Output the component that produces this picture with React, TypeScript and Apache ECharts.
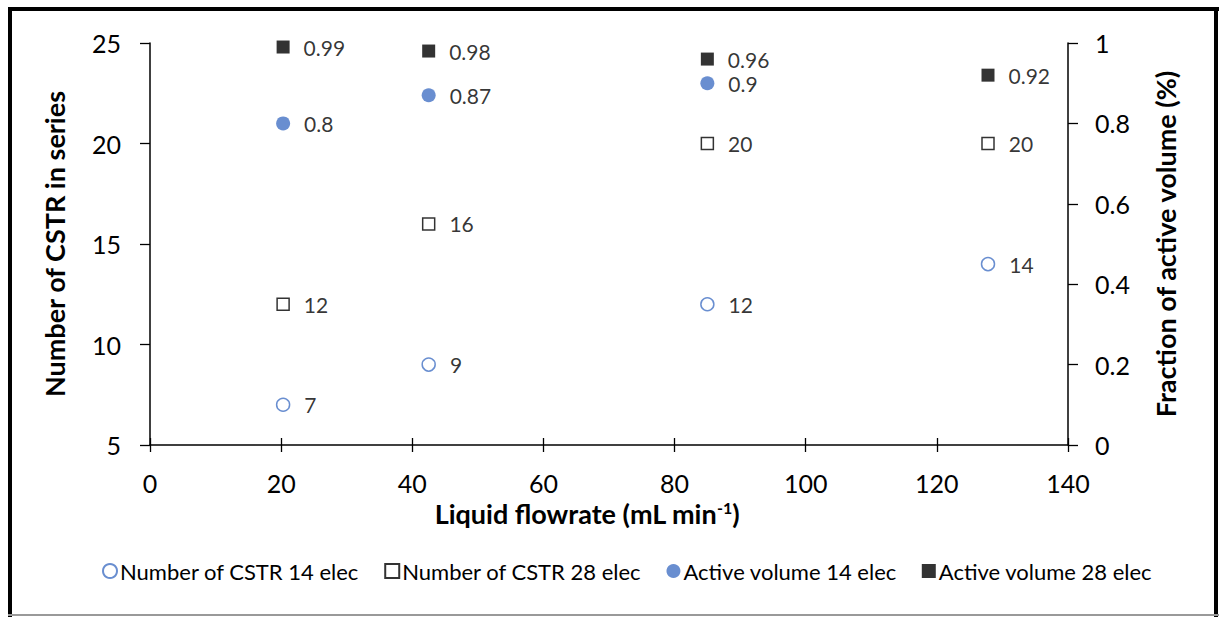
import React, { useEffect, useRef } from "react";
import * as echarts from "echarts";

const flow = [20.3, 42.5, 85, 127.8];
const cstr14 = [7, 9, 12, 14];
const cstr28 = [12, 16, 20, 20];
const active14 = [0.8, 0.87, 0.9];
const active28 = [0.99, 0.98, 0.96, 0.92];
const seriesNames = [
  "Number of CSTR 14 elec",
  "Number of CSTR 28 elec",
  "Active volume 14 elec",
  "Active volume 28 elec",
];

const FONT = "Lato";
const BLUE = "#4472C4";

export default function App() {
  const ref = useRef<HTMLDivElement>(null);
  useEffect(() => {
    document.body.style.margin = "0";
    const chart = echarts.init(ref.current!, undefined, { renderer: "svg" });
    const lbl = {
      show: true,
      position: "right" as const,
      distance: 14,
      color: "#000",
      fontSize: 21,
      lineHeight: 20,
      fontFamily: FONT,
    };
    const pts = (ys: number[]) => ys.map((y, i) => [flow[i], y]);
    const tickStyle = { color: "#000", width: 1.3 };
    const lineStyle = { color: "#000", width: 1.5 };
    chart.setOption({
      animation: false,
      textStyle: { fontFamily: FONT },
      grid: { left: 150, right: 151, top: 43, bottom: 172 },
      legend: {
        top: 555,
        left: 97,
        itemWidth: 14,
        itemHeight: 14,
        itemGap: 25,
        textStyle: { fontSize: 22, fontFamily: FONT, color: "#000", padding: [0, 0, 0, -2] },
        data: seriesNames,
      },
      xAxis: [
        {
          type: "value",
          min: 0,
          max: 140,
          interval: 20,
          position: "bottom",
          axisLine: { onZero: false, lineStyle },
          axisTick: { show: true, length: 7, lineStyle: tickStyle },
          minorTick: { show: false },
          splitLine: { show: false },
          axisLabel: { fontSize: 25, color: "#000", fontFamily: FONT, margin: 25 },
          name: "{a|Liquid flowrate (mL min}{s|-1}{a|)}",
          nameLocation: "middle",
          nameGap: 54,
          nameTextStyle: {
            padding: [0, 44, 0, 0],
            rich: {
              a: { fontSize: 27, fontWeight: "bold", color: "#000", fontFamily: FONT },
              s: { fontSize: 16, fontWeight: "bold", color: "#000", fontFamily: FONT, verticalAlign: "top", padding: [0, 0, 12, 0] },
            },
          },
        },
        {
          type: "value",
          min: 0,
          max: 140,
          interval: 20,
          position: "bottom",
          axisLine: { show: false, onZero: false },
          axisTick: { show: true, inside: true, length: 7, lineStyle: tickStyle },
          minorTick: { show: false },
          splitLine: { show: false },
          axisLabel: { show: false },
        },
      ],
      yAxis: [
        {
          type: "value",
          min: 5,
          max: 25,
          interval: 5,
          position: "left",
          axisLine: { show: true, onZero: false, lineStyle },
          axisTick: { show: true, length: 10, lineStyle: tickStyle },
          minorTick: { show: false },
          splitLine: { show: false },
          axisLabel: { fontSize: 25, color: "#000", fontFamily: FONT, margin: 29 },
          name: "Number of CSTR in series",
          nameLocation: "middle",
          nameGap: 82,
          nameTextStyle: { fontSize: 27, fontWeight: "bold", color: "#000", fontFamily: FONT },
        },
        {
          type: "value",
          min: 0,
          max: 1,
          interval: 0.2,
          position: "right",
          axisLine: { show: true, onZero: false, lineStyle },
          axisTick: { show: true, length: 10, lineStyle: tickStyle },
          minorTick: { show: false },
          splitLine: { show: false },
          axisLabel: { fontSize: 25, color: "#000", fontFamily: FONT, margin: 27 },
          name: "Fraction of active volume (%)",
          nameLocation: "middle",
          nameGap: 84,
          nameRotate: 90,
          nameTextStyle: { fontSize: 27, fontWeight: "bold", color: "#000", fontFamily: FONT },
        },
      ],
      series: [
        {
          name: seriesNames[0],
          type: "scatter",
          yAxisIndex: 0,
          symbol: "circle",
          symbolSize: 13,
          itemStyle: { color: "#fff", borderColor: BLUE, borderWidth: 1.5 },
          label: lbl,
          data: pts(cstr14),
        },
        {
          name: seriesNames[1],
          type: "scatter",
          yAxisIndex: 0,
          symbol: "rect",
          symbolSize: 12,
          itemStyle: { color: "#fff", borderColor: "#000", borderWidth: 1.5 },
          label: lbl,
          data: pts(cstr28),
        },
        {
          name: seriesNames[2],
          type: "scatter",
          yAxisIndex: 1,
          symbol: "circle",
          symbolSize: 14,
          itemStyle: { color: BLUE },
          label: lbl,
          data: pts(active14),
        },
        {
          name: seriesNames[3],
          type: "scatter",
          yAxisIndex: 1,
          symbol: "rect",
          symbolSize: 13,
          itemStyle: { color: "#000" },
          label: lbl,
          data: pts(active28),
        },
      ],
      graphic: [
        { type: "rect", left: 8, top: 7, shape: { width: 4, height: 610 }, style: { fill: "#000" } },
        { type: "rect", left: 8, top: 7, shape: { width: 1211, height: 4 }, style: { fill: "#000" } },
        { type: "rect", left: 1214, top: 7, shape: { width: 4, height: 610 }, style: { fill: "#000" } },
        { type: "rect", left: 8, top: 614, shape: { width: 1211, height: 2 }, style: { fill: "#999" } },
      ],
    });
    return () => chart.dispose();
  }, []);
  return <div ref={ref} style={{ width: 1219, height: 617 }} />;
}
